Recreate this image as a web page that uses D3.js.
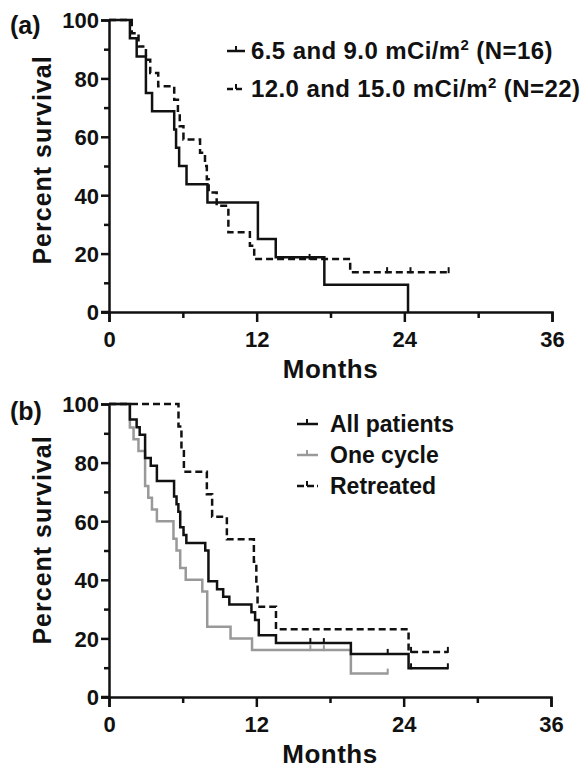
<!DOCTYPE html>
<html>
<head>
<meta charset="utf-8">
<script src="https://cdn.jsdelivr.net/npm/d3@7"></script>
<style>
  body { margin: 0; background: #fff; }
  text { font-family: "Liberation Sans", Arial, sans-serif; font-weight: bold; fill: #111; }
</style>
</head>
<body>
<div id="chart-area"></div>
<script>
/*
*    Kaplan-Meier survival, two panels
*/

// ---- panel (a) data: step times (months) and percent survival
var lowTimes  = [0, 1.7, 2.25, 3.0, 3.5, 5.3, 5.45, 5.7, 6.3, 8.0, 12.1, 13.55, 17.5, 24.3];
var lowSurv   = [100, 93.75, 87.5, 75, 68.75, 62.5, 56.25, 50, 43.75, 37.5, 25, 18.75, 9.375, 0];
var lowEnd    = 24.3;
var lowCens   = [];

var highTimes = [0, 1.85, 2.4, 3.0, 3.35, 4.0, 5.3, 5.6, 5.75, 6.05, 7.4, 7.8, 7.95, 8.1, 8.75, 9.7, 11.45, 11.8, 19.6];
var highSurv  = [100, 95.45, 90.91, 86.36, 81.82, 77.27, 72.73, 68.18, 63.64, 59.09, 54.55, 50, 45.45, 40.91, 36.36, 27.27, 22.73, 18.18, 13.64];
var highEnd   = 27.6;
var highCens  = [16.3, 22.6, 24.5, 27.6];

// ---- panel (b) data
var allTimes  = [0, 1.7, 2.25, 2.5, 2.94, 3.4, 3.9, 5.3, 5.5, 5.65, 5.8, 6.07, 6.3, 7.84, 8.1, 8.8, 9.3, 9.8, 11.6, 11.9, 12.2, 13.6, 19.7, 24.4];
var allSurv   = [100, 94.7, 92.1, 89.5, 81.6, 78.9, 73.7, 68.4, 65.8, 63.2, 57.9, 55.3, 52.6, 50.0, 39.5, 36.8, 34.2, 31.6, 28.9, 26.3, 21.1, 18.4, 14.7, 9.8];
var allEnd    = 27.6;
var allCens   = [16.4, 17.5, 22.7, 24.6, 27.6];

var oneTimes  = [0, 1.7, 2.0, 2.4, 2.94, 3.2, 3.5, 3.9, 5.25, 5.5, 5.8, 6.25, 7.6, 8.0, 9.9, 11.65, 19.7];
var oneSurv   = [100, 92, 88, 84, 72, 68, 64, 60, 54, 50, 44, 40, 36, 24, 20, 16, 8];
var oneEnd    = 22.7;
var oneCens   = [16.4, 17.5, 22.7];

var retTimes  = [0, 5.66, 5.9, 6.1, 7.97, 8.4, 9.6, 11.8, 12.0, 12.1, 13.6, 24.4];
var retSurv   = [100, 92.3, 84.6, 76.9, 69.2, 61.5, 53.8, 46.2, 38.5, 30.8, 23.1, 15.4];
var retEnd    = 27.6;
var retCens   = [24.6, 27.6];

// axis ticks
var xTicks = [0, 6, 12, 18, 24, 30, 36];
var xLabels = [0, 12, 24, 36];
var yTicks = [0, 10, 20, 30, 40, 50, 60, 70, 80, 90, 100];
var yLabels = [0, 20, 40, 60, 80, 100];

var legendA = ["6.5 and 9.0 mCi/m|2| (N=16)", "12.0 and 15.0 mCi/m|2| (N=22)"];
var legendB = ["All patients", "One cycle", "Retreated"];

var svg = d3.select("#chart-area")
    .append("svg")
    .attr("width", 587)
    .attr("height", 771);

svg.append("rect").attr("width", 587).attr("height", 771).attr("fill", "#fff");

function makeSeries(times, surv, end, cens, color, dash) {
    var pts = times.map(function(t, i){ return [t, surv[i]]; });
    pts.push([end, surv[surv.length - 1]]);
    return { pts: pts, cens: cens, color: color, dash: dash,
             last: surv[surv.length - 1], times: times, surv: surv };
}

// survival value at time t (for censor ticks)
function survAt(s, t) {
    var v = s.surv[0];
    s.times.forEach(function(tt, i){ if (tt <= t) v = s.surv[i]; });
    return v;
}

function drawPanel(cfg) {
    var x = d3.scaleLinear().domain([0, 36]).range([cfg.left, cfg.right]);
    var y = d3.scaleLinear().domain([0, 100]).range([cfg.bottom, cfg.top]);

    var g = svg.append("g");

    // X Axis
    var xAxisCall = d3.axisBottom(x)
        .tickValues(xTicks)
        .tickSizeOuter(0)
        .tickSize(10)
        .tickPadding(9)
        .tickFormat(function(d){ return xLabels.indexOf(d) >= 0 ? d : ""; });
    var xa = g.append("g")
        .attr("transform", "translate(0," + cfg.bottom + ")")
        .call(xAxisCall);
    xa.selectAll(".tick line")
        .attr("y2", function(d){ return xLabels.indexOf(d) >= 0 ? 10 : 6; });

    // Y Axis
    var yAxisCall = d3.axisLeft(y)
        .tickValues(yTicks)
        .tickSizeOuter(0)
        .tickSize(8)
        .tickPadding(2)
        .tickFormat(function(d){ return yLabels.indexOf(d) >= 0 ? d : ""; });
    var ya = g.append("g")
        .attr("transform", "translate(" + cfg.left + ",0)")
        .call(yAxisCall);
    ya.selectAll(".tick line")
        .attr("x2", function(d){ return yLabels.indexOf(d) >= 0 ? -8 : -5; });

    [xa, ya].forEach(function(a){
        a.selectAll(".domain").attr("stroke", "#111").attr("stroke-width", 2.5);
        a.selectAll(".tick line").attr("stroke", "#111").attr("stroke-width", 2.5);
        a.selectAll(".tick text")
            .attr("font-size", "22px")
            .attr("font-family", "Liberation Sans, Arial, sans-serif")
            .attr("font-weight", "bold")
            .attr("fill", "#111");
    });
    ya.selectAll(".tick text").attr("dy", "0.36em");
    // x axis extends left of the y axis slightly ("0-" tick)
    g.append("line")
        .attr("x1", cfg.left - 8).attr("x2", cfg.left)
        .attr("y1", cfg.bottom).attr("y2", cfg.bottom)
        .attr("stroke", "#111").attr("stroke-width", 2.5);

    // curves
    var line = d3.line()
        .x(function(d){ return x(d[0]); })
        .y(function(d){ return y(d[1]); })
        .curve(d3.curveStepAfter);

    cfg.series.forEach(function(s){
        g.append("path")
            .attr("d", line(s.pts))
            .attr("fill", "none")
            .attr("stroke", s.color)
            .attr("stroke-width", 2.5)
            .attr("stroke-dasharray", s.dash ? "7,4" : null);
        g.selectAll(null).data(s.cens).enter()
            .append("line")
            .attr("x1", function(d){ return x(d); })
            .attr("x2", function(d){ return x(d); })
            .attr("y1", function(d){ return y(survAt(s, d)) - 5; })
            .attr("y2", function(d){ return y(survAt(s, d)) + 1; })
            .attr("stroke", s.color)
            .attr("stroke-width", 2);
    });

    // Labels
    g.append("text")
        .attr("x", (cfg.left + cfg.right) / 2)
        .attr("y", cfg.monthsY)
        .attr("font-size", "26px")
        .attr("letter-spacing", "0.5px")
        .attr("text-anchor", "middle")
        .text("Months");

    g.append("text")
        .attr("transform", "translate(51," + cfg.ylabY + ") rotate(-90)")
        .attr("font-size", "25px")
        .attr("letter-spacing", "1px")
        .attr("text-anchor", "middle")
        .text("Percent survival");

    g.append("text")
        .attr("x", 10)
        .attr("y", cfg.tagY)
        .attr("font-size", "25px")
        .text(cfg.tag);

    return g;
}

// Panel (a)
var sLow  = makeSeries(lowTimes, lowSurv, lowEnd, lowCens, "#111", false);
var sHigh = makeSeries(highTimes, highSurv, highEnd, highCens, "#111", true);
var gA = drawPanel({ left: 109, right: 552, top: 20, bottom: 312,
    monthsY: 378, ylabY: 160, tagY: 34, tag: "(a)", series: [sHigh, sLow] });

// Panel (b)
var sAll = makeSeries(allTimes, allSurv, allEnd, allCens, "#111", false);
var sOne = makeSeries(oneTimes, oneSurv, oneEnd, oneCens, "#999", false);
var sRet = makeSeries(retTimes, retSurv, retEnd, retCens, "#111", true);
var gB = drawPanel({ left: 109, right: 551, top: 404, bottom: 697,
    monthsY: 763, ylabY: 540, tagY: 420, tag: "(b)", series: [sOne, sAll, sRet] });

// Legend (a)
var legA = gA.selectAll(".legA").data(legendA).enter().append("g")
    .attr("transform", function(d, i){ return "translate(0," + (51 + 38 * i) + ")"; });
legA.append("line")
    .attr("x1", 227).attr("x2", 245)
    .attr("stroke", "#111").attr("stroke-width", 2.5)
    .attr("stroke-dasharray", function(d, i){ return i ? "6,3" : null; });
legA.append("line")
    .attr("x1", 236).attr("x2", 236).attr("y1", -5).attr("y2", 0)
    .attr("stroke", "#111").attr("stroke-width", 2);
legA.append("text")
    .attr("x", 251)
    .attr("y", 8)
    .attr("font-size", "24px")
    .attr("letter-spacing", "0.4px")
    .each(function(d){
        var parts = d.split("|");
        var t = d3.select(this);
        t.append("tspan").text(parts[0]);
        t.append("tspan").attr("font-size", "15px").attr("dy", "-9").text(parts[1]);
        t.append("tspan").attr("dy", "9").text(parts[2]);
    });

// Legend (b)
var legColors = ["#111", "#999", "#111"];
var legB = gB.selectAll(".legB").data(legendB).enter().append("g")
    .attr("transform", function(d, i){ return "translate(0," + (424 + 31 * i) + ")"; });
legB.append("line")
    .attr("x1", 297).attr("x2", 318)
    .attr("stroke", function(d, i){ return legColors[i]; }).attr("stroke-width", 2.5)
    .attr("stroke-dasharray", function(d, i){ return i == 2 ? "7,3" : null; });
legB.append("line")
    .attr("x1", 307).attr("x2", 307).attr("y1", -5).attr("y2", 0)
    .attr("stroke", function(d, i){ return legColors[i]; }).attr("stroke-width", 2);
legB.append("text")
    .attr("x", 330)
    .attr("y", 8)
    .attr("font-size", "23px")
    .text(function(d){ return d; });
</script>
</body>
</html>
